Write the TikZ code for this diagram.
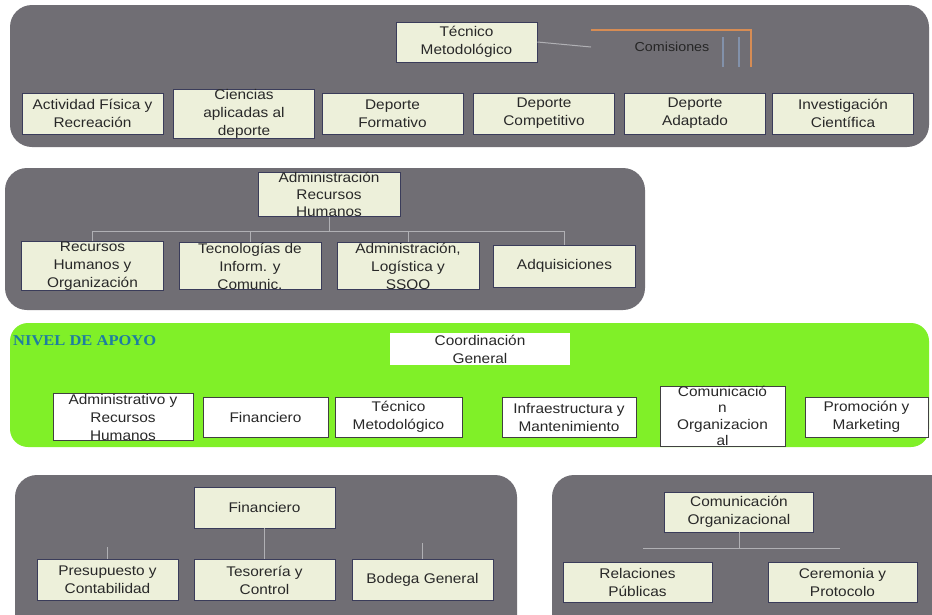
\documentclass[tikz,border=0pt]{standalone}
\usepackage{fontspec}
\setmainfont[FakeStretch=1.1]{Liberation Sans}
\newfontfamily\nivelfont[FakeStretch=1.1]{Liberation Serif}
\definecolor{panelgray}{RGB}{112,110,116}
\definecolor{boxfill}{RGB}{237,240,218}
\definecolor{boxedge}{RGB}{58,60,90}
\definecolor{boxtext}{RGB}{40,40,40}
\definecolor{linkgray}{RGB}{176,176,180}
\definecolor{orangeline}{RGB}{214,140,84}
\definecolor{apoyogreen}{RGB}{128,240,40}
\definecolor{nivelcol}{RGB}{30,125,160}
\definecolor{barblue}{RGB}{130,145,170}
\begin{document}
\begin{tikzpicture}[x=1pt,y=-1pt,
  panel/.style={fill=panelgray, rounded corners=22pt},
  cbox/.style={draw=boxedge, line width=0.9pt, fill=boxfill, inner sep=0pt, align=center, text=boxtext, font=\fontsize{14}{18}\selectfont},
  wbox/.style={cbox, fill=white, draw=black!75},
  link/.style={draw=linkgray, line width=1pt}]
\clip (0,0) rectangle (932,614);
\fill[white] (0,0) rectangle (932,614);

% Panel 1
\fill[panel] (10,5) rectangle (929,147);
\node[cbox, minimum width=141pt, minimum height=40pt] (tm) at (466.5,42) {Técnico\\Metodológico};
\node[font=\fontsize{13}{16}\selectfont, text=black!85] (com) at (672,47) {Comisiones};
\coordinate (c1) at (591,47);
\coordinate (o1) at (591,30);
\coordinate (o2) at (751,30);
\coordinate (o3) at (751,67);
\coordinate (bb1) at (723,37);
\coordinate (bb2) at (723,67);
\coordinate (bb3) at (739,37);
\coordinate (bb4) at (739,67);
\draw[link] (tm.east) -- (c1);
\draw[barblue, line width=2pt] (bb1) -- (bb2) (bb3) -- (bb4);
\draw[orangeline, line width=1.3pt] (o1) -- (o2) -- (o3);
\begin{scope}[every node/.style={cbox, minimum width=141pt, minimum height=41pt}]
\node (a1) at (92.5,113.5) {Actividad Física y\\Recreación};
\node (a2) at (244,113.5) {Ciencias\\aplicadas al\\deporte};
\node (a3) at (392.5,113.5) {Deporte\\Formativo};
\node (a4) at (544,113.5) {Deporte\\Competitivo};
\node (a5) at (695,113.5) {Deporte\\Adaptado};
\node (a6) at (843,113.5) {Investigación\\Científica};
\end{scope}

% Panel 2
\fill[panel] (5,168) rectangle (645,310);
\coordinate (h) at (329,231);
\coordinate (hl) at (92.5,231);
\coordinate (hr) at (564.5,231);
\node[cbox, minimum width=142pt, minimum height=37pt, font=\fontsize{14}{17}\selectfont] (ar) at (329,194.5) {Administración\\Recursos\\Humanos};
\begin{scope}[every node/.style={cbox, minimum width=142pt, minimum height=42pt}]
\node (b1) at (92.5,266) {Recursos\\Humanos y\\Organización};
\node (b2) at (250,266) {Tecnologías de\\Inform. y\\Comunic.};
\node (b3) at (408,266) {Administración,\\Logística y\\SSOO};
\node (b4) at (564.5,266) {Adquisiciones};
\end{scope}
\draw[link] (ar.south) -- (h);
\draw[link] (b1.north) -- (hl) -- (hr) -- (b4.north);
\draw[link] (b2.north) -- (b2.north |- h);
\draw[link] (b3.north) -- (b3.north |- h);

% Panel 3 (green)
\fill[apoyogreen, rounded corners=18pt] (10,323) rectangle (929,447);
\node[font=\nivelfont\bfseries\fontsize{15}{17}\selectfont, text=nivelcol, anchor=west, inner sep=0pt] (niv) at (13,341) {NIVEL DE APOYO};
\node[cbox, fill=white, draw=none, minimum width=180pt, minimum height=32pt] (cg) at (480,349) {Coordinación\\General};
\begin{scope}[every node/.style={wbox, minimum height=40pt}]
\node[minimum width=140pt] (g1) at (123,417) {Administrativo y\\Recursos\\Humanos};
\node[minimum width=125pt] (g2) at (265.5,417) {Financiero};
\node[minimum width=127pt] (g3) at (398.5,417) {Técnico\\Metodológico};
\node[minimum width=134pt] (g4) at (569,417) {Infraestructura y\\Mantenimiento};
\node[minimum width=125pt, font=\fontsize{14}{16.5}\selectfont] (g5) at (722.5,416) {Comunicació\\n\\Organizacion\\al};
\node[minimum width=123pt] (g6) at (866.5,417) {Promoción y\\Marketing};
\end{scope}

% Panel 4
\fill[panel] (15,475) rectangle (517,650);
\begin{scope}[every node/.style={cbox, minimum width=141pt, minimum height=41pt}]
\node (f0) at (264.5,507.5) {Financiero};
\node (f1) at (107.5,580) {Presupuesto y\\Contabilidad};
\node (f2) at (264.5,580) {Tesorería y\\Control};
\node (f3) at (422.5,580) {Bodega General};
\end{scope}
\coordinate (t1) at (107.5,547);
\coordinate (t3) at (422.5,543);
\draw[link] (f0.south) -- (f2.north);
\draw[link] (f1.north) -- (t1);
\draw[link] (f3.north) -- (t3);

% Panel 5
\fill[panel] (552,475) rectangle (960,650);
\begin{scope}[every node/.style={cbox, minimum width=149pt, minimum height=40pt}]
\node (p0) at (739,512) {Comunicación\\Organizacional};
\node (p1) at (637.5,582.5) {Relaciones\\Públicas};
\node (p2) at (842.5,582.5) {Ceremonia y\\Protocolo};
\end{scope}
\coordinate (pm) at (739,548);
\coordinate (pl) at (643,548);
\coordinate (pr) at (840,548);
\draw[link] (p0.south) -- (pm);
\draw[link] (pl) -- (pr);
\end{tikzpicture}
\end{document}
